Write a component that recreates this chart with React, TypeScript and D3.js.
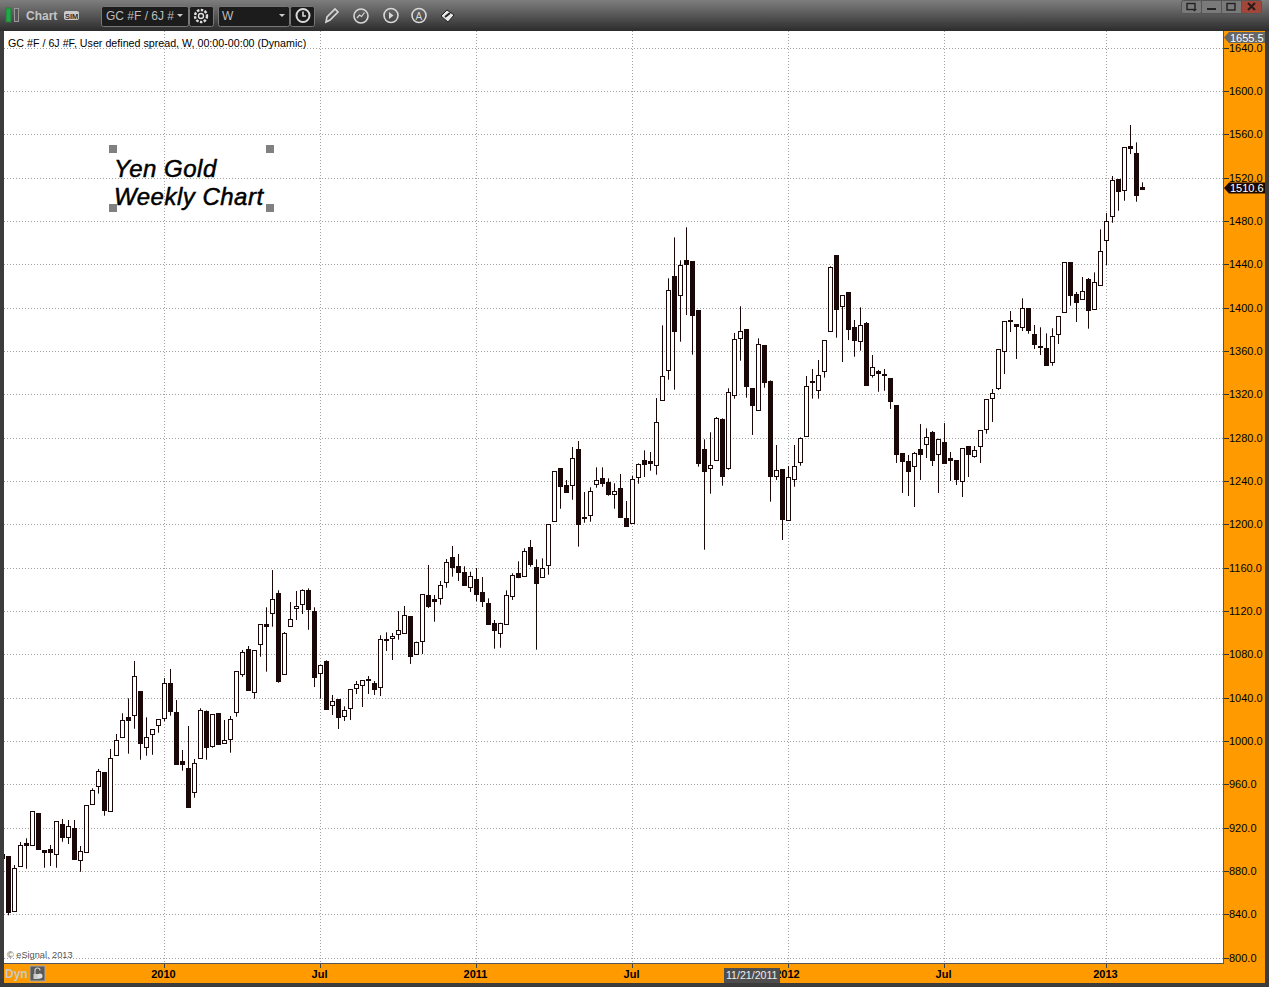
import React from "react";
import * as d3 from "d3";

const opens = [895.1,
894.1,843.1,884.6,905.5,904.0,933.6,899.0,900.3,895.7,923.4,
911.4,919.7,890.2,897.6,941.9,958.5,971.4,935.4,986.7,1003.7,
1022.2,1024.0,1046.2,994.5,1006.5,1014.8,1020.9,1053.6,1026.8,981.6,
975.1,952.6,984.3,1027.7,995.0,1025.9,997.8,1001.9,1026.8,1061.9,
1084.9,1045.2,1089.2,1107.9,1117.8,1136.6,1061.5,1105.8,1122.4,1126.1,
1139.4,1120.0,1062.4,1073.9,1032.9,1038.8,1023.1,1030.1,1048.6,1051.7,
1057.2,1053.6,1049.9,1094.3,1095.1,1098.4,1099.3,1115.4,1080.6,1092.0,
1134.8,1130.6,1131.6,1146.4,1169.9,1161.6,1156.0,1142.2,1149.6,1137.6,
1127.4,1108.9,1099.3,1107.6,1133.5,1155.1,1152.0,1179.1,1160.6,1151.2,
1162.3,1202.7,1252.0,1236.3,1236.0,1269.6,1206.9,1208.3,1236.9,1242.8,
1239.1,1227.7,1233.6,1205.9,1200.9,1243.3,1259.4,1258.0,1254.4,1314.4,
1342.1,1429.2,1411.3,1444.0,1443.1,1397.9,1269.6,1251.7,1259.0,1297.2,
1251.7,1319.0,1372.0,1380.3,1325.9,1305.2,1365.6,1332.3,1244.3,1251.1,
1203.7,1241.5,1257.6,1281.2,1332.5,1323.6,1341.6,1378.5,1448.6,1401.2,
1414.5,1382.2,1369.3,1385.9,1337.5,1341.8,1338.9,1335.1,1310.2,1265.9,
1258.5,1253.5,1269.6,1274.2,1285.2,1264.6,1276.0,1260.8,1259.4,1239.6,
1272.3,1262.7,1272.0,1287.6,1316.3,1326.1,1359.6,1388.8,1384.9,1381.8,
1399.7,1375.7,1364.8,1362.8,1349.5,1375.3,1395.7,1442.2,1412.6,1407.7,
1426.5,1398.4,1420.6,1462.1,1484.3,1518.8,1508.5,1549.1,1542.8,1511.2];

const highs = [895.1,
894.1,885.8,907.1,910.5,935.4,933.6,899.0,904.3,926.2,928.3,
927.4,927.4,903.4,940.9,956.6,974.5,971.4,992.9,1006.8,1025.9,
1039.7,1074.1,1046.2,1022.2,1011.1,1020.3,1058.4,1066.8,1038.1,992.0,
1014.1,983.7,1030.5,1028.6,1024.9,1025.9,1019.7,1023.4,1064.6,1084.3,
1088.0,1084.0,1108.0,1123.7,1158.1,1139.4,1100.9,1128.6,1138.8,1140.3,
1141.2,1123.7,1070.7,1074.8,1042.8,1038.8,1032.3,1048.0,1055.7,1056.3,
1060.3,1055.7,1097.9,1100.6,1100.0,1120.3,1124.9,1115.4,1092.0,1135.7,
1162.8,1135.1,1148.0,1168.3,1180.3,1172.9,1161.6,1156.6,1160.0,1151.7,
1132.0,1112.0,1109.5,1139.4,1155.1,1166.2,1178.2,1185.8,1168.0,1168.9,
1200.3,1249.3,1252.0,1241.2,1271.7,1277.2,1230.1,1234.5,1252.9,1252.9,
1242.8,1238.2,1246.8,1221.8,1244.9,1256.6,1268.6,1267.1,1316.9,1384.0,
1427.4,1465.2,1444.0,1474.5,1443.1,1397.9,1278.8,1285.3,1299.4,1298.2,
1325.9,1376.9,1401.6,1380.3,1325.9,1372.0,1365.6,1333.2,1273.5,1251.1,
1254.1,1273.5,1280.6,1337.2,1343.7,1352.0,1370.2,1438.5,1448.6,1411.7,
1414.5,1388.9,1400.6,1387.1,1356.6,1342.8,1343.7,1335.1,1310.2,1265.9,
1264.3,1267.1,1292.9,1288.9,1286.5,1279.3,1293.8,1267.1,1259.4,1270.5,
1272.3,1272.6,1287.1,1315.7,1325.2,1361.9,1387.7,1397.2,1384.9,1408.9,
1399.7,1384.3,1382.2,1376.6,1381.3,1392.3,1442.2,1442.2,1414.8,1428.6,
1427.7,1432.9,1472.6,1487.7,1521.8,1518.8,1548.3,1568.9,1552.9,1516.0];

const lows = [892.3,
839.4,843.1,884.6,882.4,904.0,900.3,883.3,884.9,883.3,907.3,
905.2,890.7,879.6,897.6,941.9,951.7,931.3,935.4,986.7,1003.7,
988.6,1011.6,983.0,986.7,987.6,1008.0,1018.5,1023.7,978.4,972.9,
938.7,947.9,984.3,983.0,994.1,996.9,997.8,989.5,1022.7,1059.6,
1046.7,1039.3,1078.1,1064.3,1105.8,1054.1,1061.5,1105.8,1112.0,1117.5,
1103.0,1050.1,1039.3,1029.2,1024.3,1011.4,1018.8,1019.7,1043.7,1031.7,
1043.7,1042.8,1041.8,1083.4,1075.1,1093.8,1099.3,1071.4,1080.0,1080.6,
1123.1,1110.4,1126.1,1141.8,1152.0,1148.0,1143.6,1137.8,1129.2,1124.0,
1107.6,1085.5,1086.4,1107.6,1130.5,1150.5,1152.0,1161.2,1084.6,1151.2,
1153.8,1202.7,1214.7,1229.5,1223.0,1179.7,1201.8,1202.7,1234.1,1235.0,
1226.7,1214.7,1206.4,1198.1,1200.9,1237.8,1244.0,1249.8,1246.1,1314.4,
1333.8,1324.6,1368.9,1393.5,1356.9,1253.5,1176.9,1228.6,1259.0,1236.0,
1250.7,1316.3,1351.3,1317.2,1282.8,1305.2,1326.4,1221.2,1241.2,1185.8,
1203.7,1235.0,1254.4,1281.2,1316.3,1316.3,1335.7,1378.5,1372.6,1350.1,
1370.4,1355.0,1360.6,1328.3,1335.7,1322.7,1323.6,1306.8,1256.9,1229.2,
1226.5,1216.3,1241.2,1261.5,1254.1,1229.2,1256.3,1240.3,1236.6,1225.5,
1244.0,1261.8,1256.9,1284.0,1294.8,1324.3,1339.1,1377.8,1352.9,1378.8,
1376.3,1362.1,1356.6,1346.7,1346.7,1366.8,1395.7,1402.1,1387.1,1407.7,
1380.9,1398.4,1420.6,1439.7,1478.7,1489.8,1499.0,1542.1,1498.1,1509.8];

const closes = [892.3,
841.8,882.8,904.0,904.0,935.4,900.3,897.5,897.2,926.2,911.0,
921.5,890.7,898.5,940.9,954.8,972.3,936.0,984.3,1000.9,1019.4,
1019.0,1060.0,997.8,1003.7,1011.1,1020.3,1053.6,1027.3,978.4,978.4,
938.7,979.7,1028.6,994.1,1024.9,996.9,1000.6,1020.3,1064.6,1082.2,
1046.7,1084.0,1108.0,1106.3,1131.1,1054.8,1099.7,1112.6,1124.6,1139.4,
1121.5,1058.7,1070.2,1029.2,1036.9,1021.8,1028.6,1048.0,1052.6,1056.3,
1055.7,1047.6,1094.2,1092.7,1096.9,1102.5,1116.3,1078.1,1091.4,1135.7,
1124.9,1129.0,1144.0,1165.2,1160.3,1155.6,1143.6,1152.3,1135.3,1128.9,
1107.6,1102.1,1108.9,1134.8,1153.2,1151.0,1175.4,1162.8,1145.5,1159.7,
1200.3,1249.3,1235.0,1229.5,1261.3,1200.0,1205.3,1230.8,1240.9,1237.8,
1227.7,1230.4,1206.4,1198.1,1241.9,1255.7,1255.3,1256.4,1294.5,1336.9,
1416.3,1378.1,1439.4,1440.0,1392.9,1256.3,1248.9,1254.8,1298.2,1244.3,
1322.2,1371.1,1378.5,1327.3,1309.8,1366.5,1331.0,1244.3,1250.2,1204.6,
1243.7,1253.9,1279.7,1327.7,1330.9,1337.9,1370.2,1437.6,1398.4,1411.7,
1380.0,1369.8,1384.0,1328.3,1345.2,1339.3,1337.3,1313.5,1264.9,1258.1,
1248.9,1265.9,1264.6,1280.6,1259.0,1278.8,1256.3,1259.2,1241.5,1270.5,
1264.6,1268.6,1287.1,1315.7,1321.3,1361.9,1387.7,1387.2,1382.7,1399.7,
1379.0,1366.1,1363.2,1346.7,1373.9,1392.3,1442.2,1411.3,1404.9,1415.4,
1397.5,1423.7,1452.3,1480.0,1517.9,1507.3,1548.3,1547.5,1503.7,1509.8];

const priceTicks = [800,840,880,920,960,1000,1040,1080,1120,1160,1200,1240,1280,1320,1360,1400,1440,1480,1520,1560,1600,1640];
const timeTickWeeks = [27,53,79,105,131,157,184];
const timeTickLabels = ["2010","Jul","2011","Jul","2012","Jul","2013"];

const SANS = "'Liberation Sans', Arial, sans-serif";
const DARK = "#1a0808";
const ORANGE = "#ff9a00";

const y = d3.scaleLinear().domain([800, 1640]).range([958, 48]);
const x = d3.scaleLinear().domain([0, 190]).range([2.5, 1142.5]);
const snap = (v: number) => Math.round(v - 0.5) + 0.5;

function PriceFlag({ top, text, fill }: { top: number; text: string; fill: string }) {
  return (
    <g>
      <path d={`M1224 ${top + 5.5} L1229 ${top} H1265 V${top + 11} H1229 Z`} fill={fill} />
      <text x={1230} y={top + 9.5} fontSize={11} fill="#fff" fontFamily={SANS}>{text}</text>
    </g>
  );
}

function TitleBar() {
  const ico = { fill: "none", stroke: "#d8d8d8", strokeWidth: 1.6 };
  return (
    <g>
      <rect x={0} y={0} width={1269} height={31} fill="url(#tb)" />
      <rect x={6} y={8} width={5} height={14} fill="#1fa84a" stroke="#2a7a3a" />
      <rect x={14.5} y={8.5} width={4} height={13} fill="#555" stroke="#999" />
      <text x={26} y={20} fontSize={12} fontWeight={700} fill="#c4c4c4" fontFamily={SANS}>Chart</text>
      <rect x={64} y={11} width={15} height={9} rx={2} fill="#ccc" />
      <text x={65} y={18.5} fontSize={7.5} fontWeight={700} fill="#333" fontFamily={SANS}>SIM</text>
      <rect x={101.5} y={6.5} width={87} height={20} rx={2} fill="#1c1c1c" stroke="#777" />
      <text x={106} y={20} fontSize={12} fill="#bcbcbc" fontFamily={SANS}>GC #F / 6J #</text>
      <path d="M177 14h6l-3 3z" fill="#ccc" />
      <rect x={189.5} y={6.5} width={24} height={20} rx={2} fill="#1c1c1c" stroke="#777" />
      <circle cx={201} cy={16} r={6} fill="none" stroke="#ddd" strokeWidth={2.4} strokeDasharray="2.5 1.4" />
      <circle cx={201} cy={16} r={2.5} fill="none" stroke="#ddd" strokeWidth={1.4} />
      <rect x={218.5} y={6.5} width={71} height={20} rx={2} fill="#1c1c1c" stroke="#777" />
      <text x={222} y={20} fontSize={12} fill="#bcbcbc" fontFamily={SANS}>W</text>
      <path d="M279 14h6l-3 3z" fill="#ccc" />
      <rect x={290.5} y={6.5} width={24} height={20} rx={2} fill="#1c1c1c" stroke="#777" />
      <circle cx={303} cy={15.5} r={6.5} {...ico} strokeWidth={2} />
      <path d="M303 11.5v4.5h3" {...ico} />
      <path d="M326 22l1-5 8-8 3 3-8 8z" {...ico} />
      <circle cx={361} cy={16} r={7} {...ico} />
      <path d="M357 18l2.5-3 2 1.5 3-4" {...ico} strokeWidth={1.2} />
      <circle cx={391} cy={15.5} r={7} {...ico} />
      <path d="M389 12l4.5 3.5-4.5 3.5z" fill="#d8d8d8" />
      <circle cx={419} cy={15.5} r={7} {...ico} />
      <text x={415.5} y={19.5} fontSize={10} fill="#d8d8d8" fontFamily={SANS}>A</text>
      <path d="M441 16l6-6 7 5-6 7z" fill="#e8e8e8" stroke="#222" />
      <path d="M445 17l5-4" stroke="#222" strokeWidth={2} />
      <g stroke="#555" fill="#7a7a7a">
        <rect x={1181.5} y={0.5} width={20} height={13} rx={2} />
        <rect x={1201.5} y={0.5} width={20} height={13} />
        <rect x={1221.5} y={0.5} width={20} height={13} />
        <rect x={1241.5} y={0.5} width={20} height={13} rx={2} fill="#a2463a" />
      </g>
      <rect x={1187} y={3.5} width={8} height={6} fill="none" stroke="#222" strokeWidth={1.4} />
      <path d="M1192 9h5l-2.500 2.500z" fill="#222" />
      <rect x={1207} y={8} width={9} height={2} fill="#222" />
      <rect x={1227} y={3.500} width={8} height={6.500} fill="none" stroke="#222" strokeWidth={1.4} />
      <path d="M1248 3l7 7M1255 3l-7 7" stroke="#2a1a18" strokeWidth={2} />
    </g>
  );
}

export default function App() {
  const bars = opens.map((o, i) => ({ o, h: highs[i], l: lows[i], c: closes[i], week: i }));
  return (
    <svg
      width={1269}
      height={987}
      viewBox="0 0 1269 987"
      style={{ position: "fixed", left: 0, top: 0, display: "block" }}
    >
      <defs>
        <linearGradient id="tb" x1="0" y1="0" x2="0" y2="1">
          <stop offset="0" stopColor="#7e7e7e" />
          <stop offset="0.5" stopColor="#565656" />
          <stop offset="1" stopColor="#2c2c2c" />
        </linearGradient>
        <clipPath id="plot"><rect x={4} y={31} width={1219} height={932} /></clipPath>
      </defs>
      <rect x={0} y={0} width={1269} height={987} fill="#3c3c3c" />
      <rect x={4} y={31} width={1219} height={932} fill="#fff" />
      <rect x={1224} y={31} width={41} height={952} fill={ORANGE} />
      <rect x={4} y={964} width={1261} height={19} fill={ORANGE} />
      <rect x={1223} y={31} width={1} height={933} fill="#555" />
      <rect x={4} y={963} width={1220} height={1} fill="#555" />
      <TitleBar />

      <g stroke="#a0a0a0" strokeDasharray="1 2" strokeWidth={1}>
        {priceTicks.map((p) => (
          <line key={p} x1={4} x2={1223} y1={snap(y(p))} y2={snap(y(p))} />
        ))}
        {timeTickWeeks.map((w) => (
          <line key={w} x1={x(w)} x2={x(w)} y1={31} y2={963} />
        ))}
      </g>

      <g clipPath="url(#plot)">
        {bars.map((b) => {
          const up = b.c >= b.o;
          const cx = x(b.week);
          const top = snap(y(Math.max(b.o, b.c)));
          const bot = snap(y(Math.min(b.o, b.c)));
          return (
            <g key={b.week}>
              <line x1={cx} x2={cx} y1={y(b.h)} y2={y(b.l)} stroke={DARK} strokeWidth={1} />
              <rect
                x={cx - 2}
                y={top}
                width={4}
                height={Math.max(bot - top, 1)}
                fill={up ? "#fff" : DARK}
                stroke={DARK}
                strokeWidth={1}
              />
            </g>
          );
        })}
      </g>

      <g fontFamily={SANS} fontSize={11} fill="#000">
        {priceTicks.map((p) => (
          <g key={p}>
            <line x1={1224} x2={1229} y1={snap(y(p))} y2={snap(y(p))} stroke="#333" />
            <text x={1229} y={Math.floor(y(p)) + 4}>{d3.format(".1f")(p)}</text>
          </g>
        ))}
      </g>

      <g fontFamily={SANS} fontSize={11} fontWeight={700} fill="#000" textAnchor="middle">
        {timeTickWeeks.map((w, i) => (
          <g key={w}>
            <line x1={x(w)} x2={x(w)} y1={964} y2={968} stroke="#444" />
            <text x={x(w) - 1} y={978}>{timeTickLabels[i]}</text>
          </g>
        ))}
      </g>

      <PriceFlag top={32} text="1655.5" fill="#666" />
      <PriceFlag top={182.500} text="1510.6" fill={DARK} />

      <rect x={724} y={968} width={56} height={15} fill="#4e4e4e" />
      <text x={726} y={979} fontSize={10.6} fill="#eee" fontFamily={SANS}>11/21/2011</text>

      <text x={8} y={47} fontSize={10.7} fill="#000" fontFamily={SANS}>GC #F / 6J #F, User defined spread, W, 00:00-00:00 (Dynamic)</text>
      <text x={7} y={958} fontSize={9.2} fill="#555" fontFamily={SANS}>© eSignal, 2013</text>

      <g fontFamily={SANS} fontSize={24} fontStyle="italic" fill="#000" stroke="#000" strokeWidth={0.5} letterSpacing={0.5}>
        <text x={114} y={177}>Yen Gold</text>
        <text x={114} y={205}>Weekly Chart</text>
      </g>
      <g fill="#808080">
        <rect x={109} y={145} width={8} height={8} />
        <rect x={266} y={145} width={8} height={8} />
        <rect x={109} y={204} width={8} height={8} />
        <rect x={266} y={204} width={8} height={8} />
      </g>

      <text x={5} y={978} fontSize={12} fontWeight={700} fill="#c8c8c8" fontFamily={SANS}>Dyn</text>
      <rect x={30} y={966} width={15} height={15} fill="#5a5a5a" stroke="#aaa" />
      <path d="M35 974v-3.500a2.500 2.500 0 0 1 5 0" fill="none" stroke="#ccc" strokeWidth={1.2} />
      <rect x={33.5} y={974} width={6} height={5} fill="#ccc" />
      <circle cx={40} cy={976} r={2.500} fill="#ddd" />
    </svg>
  );
}
